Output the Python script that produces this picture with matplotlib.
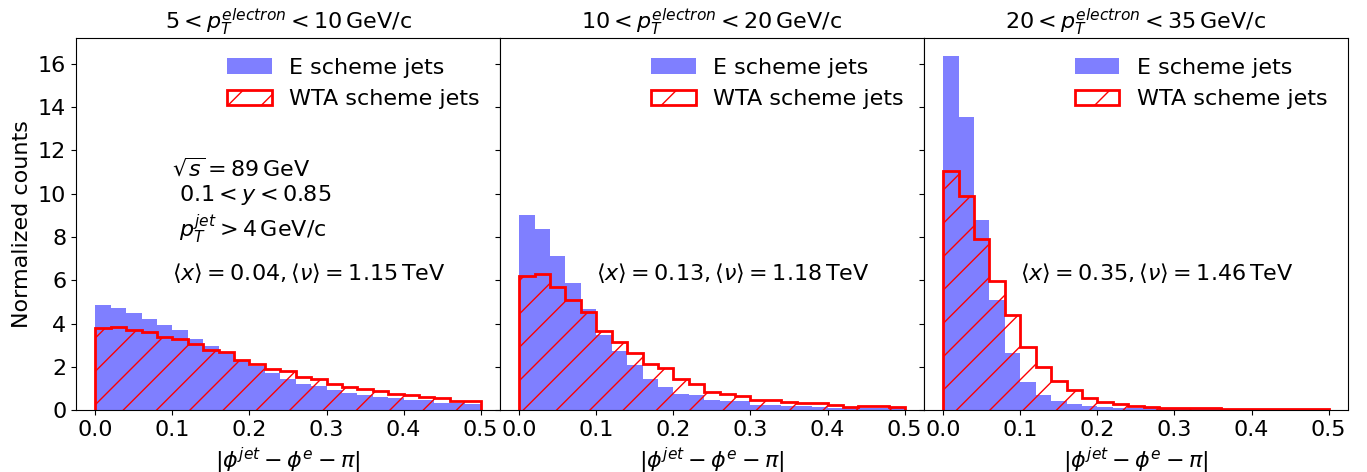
import numpy as np
import matplotlib
matplotlib.use("Agg")
import matplotlib.pyplot as plt

# bin edges: 25 bins over [0, 0.5]
edges = np.linspace(0.0, 0.5, 26)

# normalized bin heights (E scheme / WTA scheme)
e_low = [4.85, 4.72, 4.48, 4.23, 3.95, 3.69, 3.28, 2.97, 2.62, 2.26, 2.05, 1.72, 1.43,
         1.23, 1.11, 0.95, 0.80, 0.69, 0.62, 0.54, 0.49, 0.46, 0.34, 0.31, 0.28]
wta_low = [3.82, 3.85, 3.72, 3.62, 3.38, 3.28, 3.05, 2.77, 2.69, 2.31, 2.15, 1.92, 1.82,
           1.54, 1.42, 1.23, 1.08, 1.00, 0.88, 0.77, 0.69, 0.62, 0.54, 0.43, 0.42]

e_mid = [9.00, 8.35, 7.14, 5.88, 4.66, 3.46, 2.72, 2.08, 1.43, 1.08, 0.77, 0.72, 0.49,
         0.42, 0.42, 0.26, 0.23, 0.20, 0.18, 0.15, 0.12, 0.11, 0.09, 0.08, 0.08]
wta_mid = [6.18, 6.28, 5.69, 5.08, 4.54, 3.65, 3.15, 2.65, 2.15, 1.97, 1.42, 1.23, 0.85,
           0.77, 0.65, 0.49, 0.49, 0.38, 0.35, 0.31, 0.23, 0.15, 0.18, 0.18, 0.15]

e_high = [16.38, 13.57, 8.77, 5.11, 2.66, 1.31, 0.69, 0.42, 0.28, 0.18, 0.15, 0.12, 0.10,
          0.08, 0.07, 0.06, 0.05, 0.05, 0.04, 0.04, 0.03, 0.03, 0.03, 0.03, 0.02]
wta_high = [11.05, 9.89, 7.92, 5.97, 4.38, 2.92, 2.00, 1.35, 0.95, 0.54, 0.38, 0.28, 0.18,
            0.15, 0.12, 0.12, 0.08, 0.08, 0.07, 0.06, 0.06, 0.05, 0.05, 0.05, 0.04]

titles = [r"$5 < p_T^{electron} < 10\,\mathrm{GeV/c}$",
          r"$10 < p_T^{electron} < 20\,\mathrm{GeV/c}$",
          r"$20 < p_T^{electron} < 35\,\mathrm{GeV/c}$"]
mean_labels = [r"$\langle x\rangle = 0.04, \langle \nu\rangle = 1.15\,\mathrm{TeV}$",
               r"$\langle x\rangle = 0.13, \langle \nu\rangle = 1.18\,\mathrm{TeV}$",
               r"$\langle x\rangle = 0.35, \langle \nu\rangle = 1.46\,\mathrm{TeV}$"]

e_sets = [e_low, e_mid, e_high]
wta_sets = [wta_low, wta_mid, wta_high]

centers = 0.5 * (edges[:-1] + edges[1:])

plt.rcParams['font.size'] = 16

fig, axes = plt.subplots(1, 3, figsize=(13.67, 4.72), dpi=100, sharey=True)
fig.subplots_adjust(left=0.0556, right=0.986, bottom=0.131, top=0.9195, wspace=0)

for i, ax in enumerate(axes):
    ax.hist(centers, bins=edges, weights=e_sets[i], color="blue", alpha=0.5,
            label="E scheme jets")
    ax.hist(centers, bins=edges, weights=wta_sets[i], histtype="step", color="red",
            hatch="/", linewidth=2, label="WTA scheme jets")
    ax.set_title(titles[i], fontsize=16)
    ax.set_xlabel(r"$|\phi^{jet} - \phi^{e} - \pi|$", fontsize=16)
    ax.tick_params(labelsize=16)
    ax.set_xticks([0.0, 0.1, 0.2, 0.3, 0.4, 0.5])
    ax.legend(loc="upper right", fontsize=16, frameon=False)
    ax.text(0.1, 6, mean_labels[i], fontsize=16)

axes[0].set_yticks(np.arange(0, 17, 2))
axes[0].set_ylabel("Normalized counts", fontsize=16)
axes[0].text(0.1, 8, "$\\sqrt{s} = 89\\,\\mathrm{GeV}$\n $0.1 < y < 0.85$\n"
             " $p_T^{jet} > 4\\,\\mathrm{GeV/c}$", fontsize=16)

fig.savefig("out.png", dpi=100)
